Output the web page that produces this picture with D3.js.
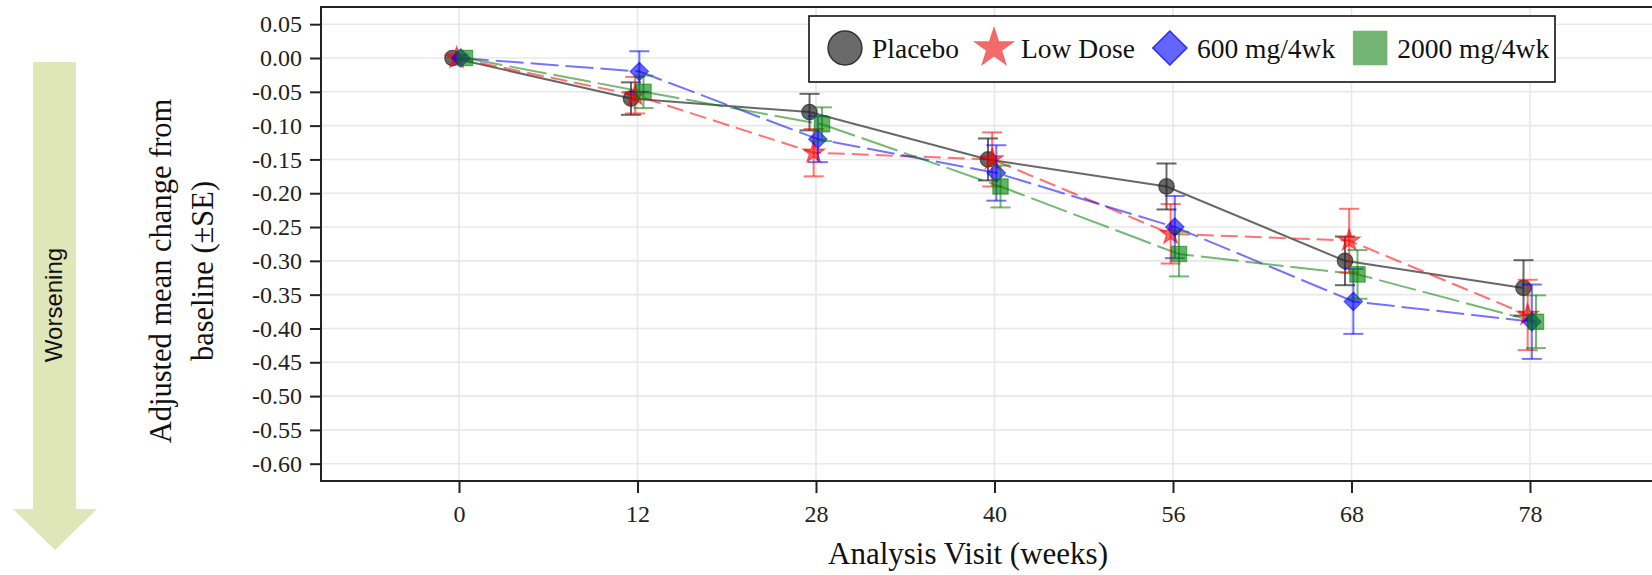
<!DOCTYPE html>
<html>
<head>
<meta charset="utf-8">
<script src="https://cdn.jsdelivr.net/npm/d3@7"></script>
<style>
  body { margin: 0; background: #fff; }
  svg { display: block; }
</style>
</head>
<body>
<div id="chart"></div>
<script>
// Visits (weeks) and tick labels
const visits = ["0", "12", "28", "40", "56", "68", "78"];
const yTicks = [0.05, 0.00, -0.05, -0.10, -0.15, -0.20, -0.25, -0.30, -0.35, -0.40, -0.45, -0.50, -0.55, -0.60];
const seriesNames = ["Placebo", "Low Dose", "600 mg/4wk", "2000 mg/4wk"];

// Adjusted mean change from baseline and standard errors
const placeboMean = [0.00, -0.060, -0.080, -0.150, -0.190, -0.300, -0.340];
const placeboSE   = [0.00, 0.024, 0.027, 0.031, 0.034, 0.036, 0.041];
const lowMean     = [0.00, -0.055, -0.140, -0.150, -0.260, -0.270, -0.380];
const lowSE       = [0.00, 0.027, 0.035, 0.040, 0.044, 0.047, 0.052];
const mid600Mean  = [0.00, -0.020, -0.120, -0.170, -0.250, -0.360, -0.390];
const mid600SE    = [0.00, 0.030, 0.034, 0.041, 0.046, 0.048, 0.055];
const high2000Mean = [0.00, -0.050, -0.098, -0.190, -0.290, -0.320, -0.390];
const high2000SE   = [0.00, 0.024, 0.025, 0.031, 0.033, 0.036, 0.039];

const W = 1652, H = 575;
const serif = "'Liberation Serif', 'Times New Roman', serif";

// series styling (built from the arrays above)
const series = [
    { name: seriesNames[0], mean: placeboMean, se: placeboSE, symbol: d3.symbolCircle,
      stroke: "rgba(40,40,40,0.7)", fill: "rgba(40,40,40,0.7)", lfill: "#6a6a6a", lstroke: "#333", dash: null,
      size: 190, lsize: 900, rot: 0 },
    { name: seriesNames[1], mean: lowMean, se: lowSE, symbol: d3.symbolStar,
      stroke: "rgba(255,0,0,0.55)", fill: "rgba(255,0,0,0.6)", lfill: "#f26a6a", lstroke: "#f26a6a", dash: "17,7",
      size: 150, lsize: 440, rot: 0 },
    { name: seriesNames[2], mean: mid600Mean, se: mid600SE, symbol: d3.symbolSquare,
      stroke: "rgba(0,0,255,0.55)", fill: "rgba(0,0,255,0.6)", lfill: "#6464ff", lstroke: "#2a2aff", dash: "28,7",
      size: 170, lsize: 580, rot: 45 },
    { name: seriesNames[3], mean: high2000Mean, se: high2000SE, symbol: d3.symbolSquare,
      stroke: "rgba(0,128,0,0.55)", fill: "rgba(0,128,0,0.6)", lfill: "#74b474", lstroke: "#74b474", dash: "38,7",
      size: 235, lsize: 1090, rot: 0 }
];

const plot = { left: 321, top: 7, bottom: 481, right: W + 20 };

const svg = d3.select("#chart").append("svg")
    .attr("width", W)
    .attr("height", H);

const x = d3.scalePoint()
    .domain(visits)
    .range([459, 1530]);

const y = d3.scaleLinear()
    .domain([-0.60, 0.05])
    .range([463.7, 24.2]);

// small horizontal dodge so the groups don't sit on top of each other
const dodge = d3.scalePoint()
    .domain(seriesNames)
    .range([-6.5, 6]);

// gridlines
svg.append("g")
    .selectAll("line")
    .data(yTicks)
    .enter()
    .append("line")
        .attr("x1", plot.left)
        .attr("x2", plot.right)
        .attr("y1", d => y(d))
        .attr("y2", d => y(d))
        .attr("stroke", "#e8e8e8")
        .attr("stroke-width", 1.6);

svg.append("g")
    .selectAll("line")
    .data(visits)
    .enter()
    .append("line")
        .attr("x1", d => x(d))
        .attr("x2", d => x(d))
        .attr("y1", plot.top)
        .attr("y2", plot.bottom)
        .attr("stroke", "#e8e8e8")
        .attr("stroke-width", 1.6);

// axes
const yAxis = svg.append("g")
    .attr("transform", `translate(${plot.left},0)`)
    .call(d3.axisLeft(y).tickValues(yTicks).tickFormat(d => d.toFixed(2)).tickSize(11).tickPadding(8));

const xAxis = svg.append("g")
    .attr("transform", `translate(0,${plot.bottom})`)
    .call(d3.axisBottom(x).tickSize(12).tickPadding(12));

[yAxis, xAxis].forEach(a => {
    a.select(".domain").remove();
    a.selectAll(".tick line").attr("stroke", "#222").attr("stroke-width", 2);
    a.selectAll(".tick text")
        .attr("fill", "#222")
        .style("font-family", serif)
        .style("font-size", "24px");
});

// frame (left, top, bottom)
svg.append("path")
    .attr("d", `M${plot.right},${plot.top}H${plot.left}V${plot.bottom}H${plot.right}`)
    .attr("fill", "none")
    .attr("stroke", "#222")
    .attr("stroke-width", 2);

// lines
const line = d3.line()
    .x(d => d.x)
    .y(d => d.y);

series.forEach(s => {
    const pts = visits.map((v, i) => ({ x: x(v) + dodge(s.name), y: y(s.mean[i]) }));
    svg.append("path")
        .attr("d", line(pts))
        .attr("fill", "none")
        .attr("stroke", s.stroke)
        .attr("stroke-width", 2)
        .attr("stroke-dasharray", s.dash);
});

// markers + error bars
series.forEach(s => {
    const g = svg.append("g");
    const pts = visits.map((v, i) => ({ v: v, m: s.mean[i], se: s.se[i] }));

    g.selectAll("path.marker")
        .data(pts)
        .enter()
        .append("path")
            .attr("class", "marker")
            .attr("d", d3.symbol().type(s.symbol).size(s.size))
            .attr("transform", d => `translate(${x(d.v) + dodge(s.name)},${y(d.m)}) rotate(${s.rot})`)
            .attr("fill", s.fill)
            .attr("stroke", s.stroke)
            .attr("stroke-width", 1.2);

    const bars = g.selectAll("g.err")
        .data(pts.filter(d => d.se > 0))
        .enter()
        .append("g")
            .attr("class", "err")
            .attr("transform", d => `translate(${x(d.v) + dodge(s.name)},0)`)
            .attr("stroke", s.stroke)
            .attr("stroke-width", 2);

    bars.append("line")
        .attr("y1", d => y(d.m + d.se))
        .attr("y2", d => y(d.m - d.se));
    bars.append("line")
        .attr("x1", -10).attr("x2", 10)
        .attr("y1", d => y(d.m + d.se))
        .attr("y2", d => y(d.m + d.se));
    bars.append("line")
        .attr("x1", -10).attr("x2", 10)
        .attr("y1", d => y(d.m - d.se))
        .attr("y2", d => y(d.m - d.se));
});

// legend
const legend = svg.append("g");
legend.append("rect")
    .attr("x", 809).attr("y", 16)
    .attr("width", 746).attr("height", 66)
    .attr("fill", "#fff")
    .attr("stroke", "#111")
    .attr("stroke-width", 1.6);

let cx = 828;
series.forEach(s => {
    legend.append("path")
        .attr("d", d3.symbol().type(s.symbol).size(s.lsize))
        .attr("transform", `translate(${cx + 17},48) rotate(${s.rot})`)
        .attr("fill", s.lfill)
        .attr("stroke", s.lstroke)
        .attr("stroke-width", 1.5);
    const t = legend.append("text")
        .attr("x", cx + 44)
        .attr("y", 58)
        .style("font-family", serif)
        .style("font-size", "27.5px")
        .attr("fill", "#111")
        .text(s.name);
    cx += 44 + t.node().getComputedTextLength() + 18;
});

// axis titles
svg.append("text")
    .attr("x", 968)
    .attr("y", 564)
    .attr("text-anchor", "middle")
    .style("font-family", serif)
    .style("font-size", "31px")
    .attr("fill", "#111")
    .text("Analysis Visit (weeks)");

const yTitle = svg.append("text")
    .attr("transform", "translate(171,271) rotate(-90)")
    .attr("text-anchor", "middle")
    .style("font-family", serif)
    .style("font-size", "30.5px")
    .attr("fill", "#111");
yTitle.append("tspan").attr("x", 0).attr("y", 0).text("Adjusted mean change from");
yTitle.append("tspan").attr("x", 0).attr("y", 42).text("baseline (\u00B1SE)");

// "Worsening" arrow
svg.append("path")
    .attr("d", "M33,62H76V509H97L55,550L13,509H33Z")
    .attr("fill", "#dfe6b8");

svg.append("text")
    .attr("transform", "translate(62,305) rotate(-90)")
    .attr("text-anchor", "middle")
    .style("font-family", "'Liberation Sans', Arial, sans-serif")
    .style("font-size", "24px")
    .attr("fill", "#111")
    .text("Worsening");
</script>
</body>
</html>
